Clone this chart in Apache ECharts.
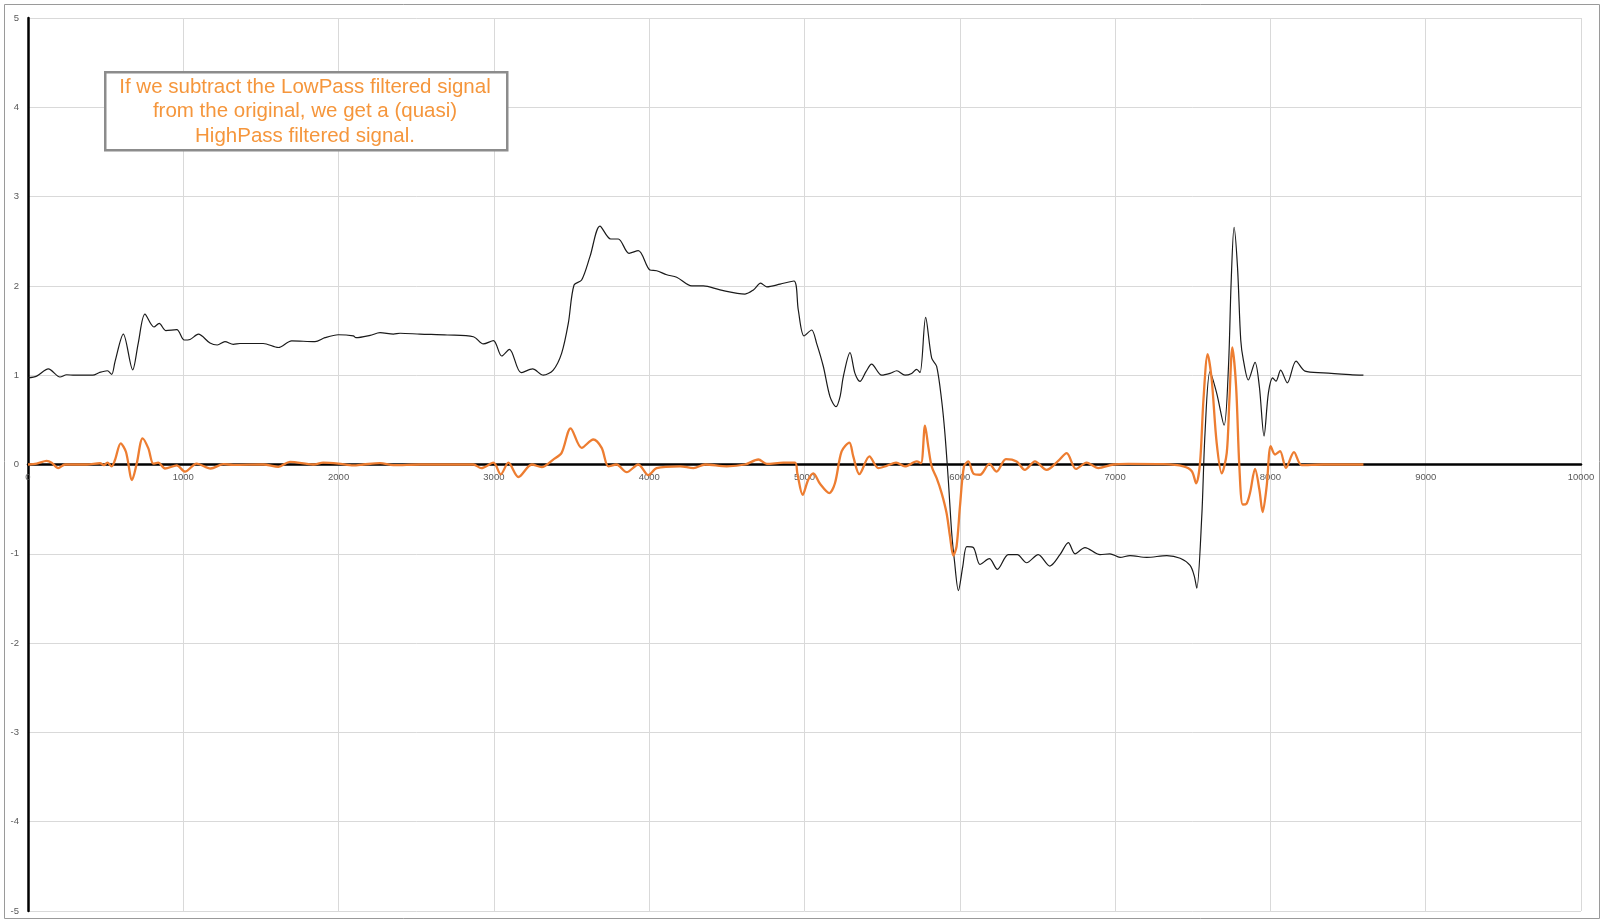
<!DOCTYPE html>
<html>
<head>
<meta charset="utf-8">
<script src="https://cdn.jsdelivr.net/npm/echarts@6/dist/echarts.min.js"></script>
<style>
html,body{margin:0;padding:0;background:#fff;}
#chart{width:1600px;height:919px;}
</style>
</head>
<body>
<div id="chart"></div>
<script>
const xTicks = [0,1000,2000,3000,4000,5000,6000,7000,8000,9000,10000];
const yTicks = [-5,-4,-3,-2,-1,0,1,2,3,4,5];

const blackX = [0,56,131,206,249,300,417,460,511,539,560,614,674,710,753,811,845,887,958,1006,1043,1097,1172,1219,1268,1322,1365,1515,1612,1698,1848,1912,1998,2095,2112,2203,2267,2353,2396,2524,2700,2868,2932,2997,3050,3100,3175,3249,3318,3382,3436,3479,3516,3565,3619,3683,3752,3801,3870,3930,4005,4048,4113,4177,4274,4349,4456,4617,4671,4718,4757,4843,4932,4960,4997,5046,5078,5121,5164,5203,5229,5250,5293,5325,5357,5396,5432,5497,5551,5594,5647,5690,5722,5744,5780,5819,5851,5883,5904,5926,5948,5965,5991,6019,6045,6087,6130,6190,6242,6312,6370,6430,6505,6580,6645,6699,6742,6806,6903,6967,7032,7096,7204,7333,7419,7483,7510,7526,7558,7579,7611,7654,7702,7730,7747,7766,7788,7809,7826,7858,7901,7929,7959,7987,8015,8036,8066,8109,8165,8223,8341,8513,8599];
const blackY = [0.97,0.99,1.07,0.98,1.005,1.0,1.0,1.03,1.05,1.01,1.15,1.46,1.06,1.36,1.685,1.54,1.58,1.50,1.51,1.394,1.40,1.46,1.36,1.338,1.375,1.345,1.355,1.355,1.31,1.385,1.375,1.42,1.453,1.44,1.42,1.446,1.476,1.46,1.47,1.46,1.45,1.431,1.35,1.387,1.215,1.29,1.028,1.07,1.0,1.058,1.245,1.58,2.01,2.066,2.33,2.67,2.525,2.525,2.365,2.395,2.178,2.17,2.125,2.097,2.0,2.0,1.955,1.909,1.955,2.03,1.99,2.02,2.055,1.73,1.439,1.506,1.357,1.1,0.76,0.647,0.76,0.984,1.252,1.02,0.93,1.04,1.125,1.0,1.02,1.05,1.0,1.02,1.066,1.03,1.648,1.19,1.1,0.72,0.35,-0.174,-0.77,-1.07,-1.413,-1.143,-0.92,-0.93,-1.12,-1.055,-1.174,-1.01,-1.01,-1.1,-1.01,-1.137,-1.01,-0.875,-1.0,-0.93,-1.01,-1.0,-1.04,-1.02,-1.04,-1.02,-1.05,-1.13,-1.25,-1.386,-0.583,0.35,1.04,0.80,0.44,1.095,2.03,2.656,2.216,1.395,1.17,0.946,1.144,0.871,0.319,0.80,0.97,0.933,1.056,0.915,1.157,1.045,1.026,1.007,1.0];

const orangeX = [0,56,120,152,195,238,378,464,489,511,539,560,597,631,670,700,738,775,807,839,882,958,1011,1086,1176,1258,1322,1515,1612,1687,1837,1901,1998,2095,2160,2267,2353,2524,2868,2919,2997,3044,3093,3158,3244,3308,3382,3436,3494,3565,3640,3694,3737,3790,3855,3930,3994,4048,4199,4285,4360,4499,4617,4703,4757,4864,4939,4954,4988,5024,5057,5100,5160,5196,5239,5289,5314,5353,5418,5475,5529,5590,5647,5722,5750,5776,5797,5819,5851,5883,5915,5937,5958,5979,6001,6027,6055,6087,6130,6190,6237,6297,6366,6419,6484,6559,6634,6688,6748,6817,6892,6989,7085,7311,7440,7494,7522,7547,7569,7596,7622,7654,7687,7719,7736,7755,7779,7800,7822,7847,7869,7901,7929,7950,7976,8002,8030,8062,8100,8152,8201,8341,8599];
const orangeY = [0,0.01,0.04,0.02,-0.04,0,0,0.014,-0.007,0.02,-0.02,0.05,0.237,0.14,-0.174,0.01,0.293,0.18,0.01,0.02,-0.045,-0.01,-0.08,0.01,-0.045,0.004,-0.004,0,-0.026,0.03,0,0.02,0.01,-0.01,0,0.015,-0.007,0,0,-0.04,0.02,-0.11,0.02,-0.14,0.0,-0.03,0.055,0.13,0.405,0.186,0.28,0.186,-0.02,0.0,-0.086,0.0,-0.12,-0.04,-0.02,-0.04,0.0,-0.02,0,0.056,0.007,0.02,0.02,-0.1,-0.34,-0.17,-0.1,-0.216,-0.32,-0.21,0.146,0.246,0.09,-0.108,0.09,-0.04,-0.015,0.02,-0.022,0.034,0.015,0.435,0.2,-0.022,-0.153,-0.32,-0.545,-0.806,-1.02,-0.918,-0.47,-0.02,0.034,-0.1,-0.115,0.007,-0.08,0.06,0.034,-0.06,0.034,-0.06,0.04,0.127,-0.05,0.022,-0.04,0.0,0.007,0.004,-0.02,-0.075,-0.21,0.018,0.728,1.237,0.95,0.243,-0.1,0.13,0.728,1.31,0.877,-0.02,-0.448,-0.437,-0.317,-0.05,-0.28,-0.534,-0.243,0.205,0.112,0.15,-0.037,0.138,-0.007,0,0];

const noteLines = ["If we subtract the LowPass filtered signal", "from the original, we get a (quasi)", "HighPass filtered signal."];

const chart = echarts.init(document.getElementById('chart'), null, {renderer: 'canvas'});
const blackData = blackX.map((x, i) => [x, blackY[i]]);
const orangeData = orangeX.map((x, i) => [x, orangeY[i]]);
const fmt = v => String(v);

chart.setOption({
  animation: false,
  backgroundColor: '#ffffff',
  grid: [
    {left: 28, right: 19, top: 18, bottom: 8, containLabel: false},
    {left: 28, right: 19, top: 18, height: 446.5, containLabel: false}
  ],
  xAxis: [
    {
      type: 'value', gridIndex: 0,
      min: xTicks[0], max: xTicks[xTicks.length - 1], interval: 1000,
      axisLine: {onZero: true, lineStyle: {color: '#000', width: 2.5}},
      axisTick: {show: false},
      axisLabel: {show: false},
      splitLine: {show: true, lineStyle: {color: '#d9d9d9', width: 1}}
    },
    {
      type: 'value', gridIndex: 1, position: 'bottom',
      min: xTicks[0], max: xTicks[xTicks.length - 1], interval: 1000,
      axisLine: {show: false, onZero: false},
      axisTick: {show: false},
      axisLabel: {show: true, color: '#595959', fontSize: 9.5, margin: 8, fontFamily: 'Liberation Sans', formatter: fmt},
      splitLine: {show: false}
    }
  ],
  yAxis: [
    {
      type: 'value', gridIndex: 0,
      min: yTicks[0], max: yTicks[yTicks.length - 1], interval: 1,
      axisLine: {show: true, onZero: false, lineStyle: {color: '#000', width: 2.5}},
      axisTick: {show: false},
      axisLabel: {color: '#595959', fontSize: 9.5, margin: 9, fontFamily: 'Liberation Sans', formatter: fmt},
      splitLine: {show: true, lineStyle: {color: '#d9d9d9', width: 1}}
    },
    {
      type: 'value', gridIndex: 1, min: 0, max: 1,
      axisLine: {show: false}, axisTick: {show: false}, axisLabel: {show: false}, splitLine: {show: false}
    }
  ],
  series: [
    {
      type: 'line', data: blackData, showSymbol: false, smooth: 0.3,
      xAxisIndex: 0, yAxisIndex: 0,
      lineStyle: {color: '#1a1a1a', width: 1.2}, z: 2
    },
    {
      type: 'line', data: orangeData, showSymbol: false, smooth: 0.3,
      xAxisIndex: 0, yAxisIndex: 0,
      lineStyle: {color: '#ED7D31', width: 2.3}, z: 3
    }
  ],
  graphic: [
    {
      type: 'rect', left: 2, top: 2, silent: true,
      shape: {width: 1595, height: 914},
      style: {fill: 'none', stroke: '#9a9a9a', lineWidth: 1}
    },
    {
      type: 'rect', left: 104, top: 71, silent: true, z: 10,
      shape: {width: 402, height: 78},
      style: {fill: '#ffffff', stroke: '#8c8c8c', lineWidth: 2.5}
    },
    {
      type: 'text', x: 305, y: 75, z: 11, silent: true,
      style: {
        text: noteLines.join('\n'),
        align: 'center',
        textAlign: 'center',
        verticalAlign: 'top',
        fill: '#F5963C',
        fontSize: 20.5,
        lineHeight: 24.5,
        fontFamily: 'Liberation Sans'
      }
    }
  ]
});
</script>
</body>
</html>
